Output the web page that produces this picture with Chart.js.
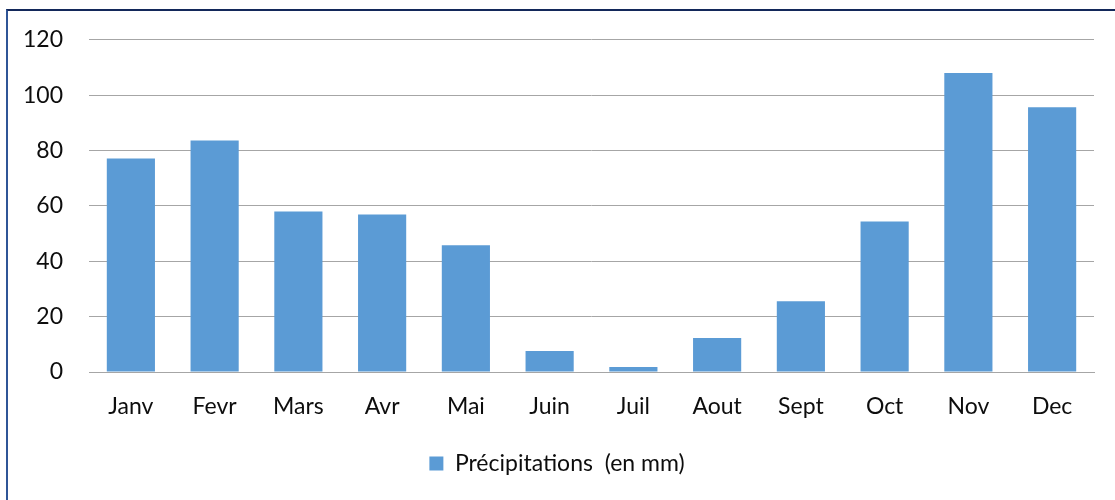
<!DOCTYPE html>
<html>
<head>
<meta charset="utf-8">
<script src="https://cdn.jsdelivr.net/npm/chart.js@4/dist/chart.umd.min.js"></script>
<style>
  html, body { margin: 0; padding: 0; background: #fff; }
  #wrap { position: relative; width: 1115px; height: 500px; overflow: hidden; }
  #frame { position: absolute; left: 6px; top: 9px; width: 1120px; height: 520px;
           border-left: 2px solid #2f5597; border-top: 2px solid #13285a; pointer-events: none; }
</style>
</head>
<body>
<div id="wrap">
  <canvas id="chart" width="1115" height="500"></canvas>
  <div id="frame"></div>
</div>
<script>
const months = ['Janv', 'Fevr', 'Mars', 'Avr', 'Mai', 'Juin', 'Juil', 'Aout', 'Sept', 'Oct', 'Nov', 'Dec'];
const rainfall = [77.1, 83.6, 58.0, 56.9, 45.8, 7.6, 1.8, 12.3, 25.6, 54.4, 108.0, 95.6];
const seriesLabel = 'Précipitations  (en mm)';
const yMax = 120;
const yStep = 20;

const font = { family: 'Lato', size: 23 };

new Chart(document.getElementById('chart'), {
    type: 'bar',
    data: {
        labels: months,
        datasets: [{
            label: seriesLabel,
            data: rainfall,
            backgroundColor: '#5b9bd5',
            borderWidth: 0,
            categoryPercentage: 1,
            barPercentage: 0.575
        }]
    },
    options: {
        responsive: false,
        animation: false,
        layout: { padding: { left: 20, right: 21, top: 39, bottom: 15 } },
        plugins: {
            legend: {
                position: 'bottom',
                labels: {
                    color: '#0d0d0d',
                    font: font,
                    boxWidth: 14,
                    boxHeight: 14,
                    padding: 20
                }
            },
            tooltip: { enabled: false }
        },
        scales: {
            y: {
                min: 0,
                max: yMax,
                ticks: { stepSize: yStep, color: '#0d0d0d', font: font, padding: 26 },
                grid: { color: '#a6a6a6', lineWidth: 1, drawTicks: false },
                border: { display: false },
                afterFit: s => { s.width = 69; }
            },
            x: {
                ticks: { color: '#0d0d0d', font: font, padding: 21 },
                grid: { display: false, drawTicks: false },
                border: { color: '#a6a6a6', width: 1 },
                afterFit: s => { s.height = 60; }
            }
        }
    }
});
</script>
</body>
</html>
